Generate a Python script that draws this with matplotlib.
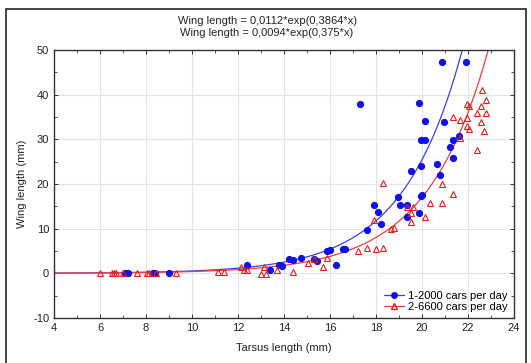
import numpy as np
import matplotlib.pyplot as plt
from matplotlib.patches import Rectangle

plt.rcParams['font.family'] = ['Liberation Sans', 'DejaVu Sans']
plt.rcParams['axes.unicode_minus'] = False

# Tarsus / wing lengths (mm), low-traffic roads (1-2000 cars per day)
tarse_faible = [7.1, 7.2, 8.3, 8.4, 9.0, 12.4, 13.4, 13.8, 13.9, 14.2, 14.4, 14.75,
                15.3, 15.45, 15.85, 16.0, 16.25, 16.55, 16.67, 17.6, 17.9, 18.1,
                18.2, 18.95, 19.05, 19.35, 19.35, 19.85, 19.5, 19.95, 19.95, 20.0,
                20.65, 20.8, 21.2, 21.35, 21.35, 21.6, 19.95, 20.15, 20.15, 20.95,
                17.3, 19.85, 20.85, 21.9]
aile_faible = [0.0, 0.0, 0.0, 0.0, 0.0, 1.9, 0.8, 1.9, 1.6, 3.1, 2.9, 3.4,
               3.1, 2.8, 5.0, 5.3, 1.9, 5.4, 5.4, 9.8, 15.4, 13.8,
               11.0, 17.1, 15.3, 15.4, 12.5, 13.4, 22.9, 24.0, 17.2, 17.5,
               24.4, 22.1, 28.2, 25.9, 29.9, 30.8, 29.9, 29.9, 34.2, 33.8,
               37.8, 38.1, 47.4, 47.4]

# High-traffic roads (2-6600 cars per day)
tarse_fort = [6.0, 6.5, 6.6, 6.7, 7.0, 7.6, 8.05, 8.15, 8.45, 9.3, 11.15, 11.4,
              12.15, 12.25, 12.4, 13.0, 13.2, 13.15, 13.7, 14.4, 15.05, 15.3,
              15.7, 15.85, 17.2, 17.6, 18.0, 18.3, 17.9, 18.3, 18.65, 18.8,
              19.35, 19.6, 19.5, 19.5, 20.15, 20.35, 20.85, 20.85, 21.35, 21.65,
              22.4, 21.35, 21.65, 21.95, 21.95, 22.05, 22.7, 22.4, 22.8, 22.55,
              21.95, 22.05, 22.55, 22.8, 22.6]
aile_fort = [0.0, 0.0, 0.0, 0.0, 0.0, 0.0, 0.0, 0.0, 0.0, 0.0, 0.3, 0.3,
             1.4, 0.8, 0.8, -0.2, -0.2, 1.4, 0.8, 0.2, 2.3, 3.2,
             1.4, 3.5, 4.9, 5.7, 5.4, 5.7, 11.9, 20.3, 9.9, 10.2,
             14.8, 14.8, 13.5, 11.6, 12.5, 15.7, 15.8, 19.9, 17.7, 30.2,
             27.7, 35.1, 34.4, 34.8, 32.9, 32.3, 31.9, 36.0, 35.9, 33.9,
             38.0, 37.4, 37.4, 38.9, 41.1]

# Exponential fits y = a*exp(b*x)
a_faible, b_faible = 0.0112, 0.3864
a_fort, b_fort = 0.0094, 0.375

bleu = '#1010e8'
rouge = '#e02020'

fig = plt.figure(figsize=(5.31, 3.63), dpi=100)
ax = fig.add_axes([0.1017, 0.124, 0.8663, 0.7383])

xs = np.linspace(4, 24, 400)
ax.plot(xs, a_faible * np.exp(b_faible * xs), color='#4040e0', lw=0.9, zorder=2)
ax.plot(xs, a_fort * np.exp(b_fort * xs), color='#e84040', lw=0.9, zorder=2)

ax.plot(tarse_faible, aile_faible, 'o', color=bleu, ms=4.2, mec=bleu, zorder=3)
ax.plot(tarse_fort, aile_fort, '^', mfc='none', mec=rouge, mew=0.8, ms=4.2, zorder=3)

# legend handles: line + marker
h1, = ax.plot([], [], '-o', color='#4040e0', mfc=bleu, mec=bleu, ms=4, lw=0.9)
h2, = ax.plot([], [], '-^', color='#e84040', mfc='none', mec=rouge, ms=4, lw=0.9)
ax.legend([h1, h2], ['1-2000 cars per day', '2-6600 cars per day'],
          loc='lower right', frameon=False, fontsize=8, handlelength=1.8,
          handletextpad=0.3, labelspacing=0.15, borderaxespad=0.0,
          bbox_to_anchor=(0.995, 0.005))

ax.set_xlim(4, 24)
ax.set_ylim(-10, 50)
ax.set_xticks(np.arange(4, 25, 2))
ax.set_yticks(np.arange(-10, 51, 10))
ax.set_xticks(np.arange(4, 25, 1), minor=True)
ax.set_yticks(np.arange(-10, 51, 5), minor=True)
ax.grid(True, which='major', color='#e4e4e4', lw=0.8, zorder=0)
ax.set_axisbelow(True)
ax.tick_params(which='both', direction='in', top=True, right=True,
               labelsize=8, colors='#333333', labelcolor='#222222')
ax.tick_params(which='major', length=3, width=0.7)
ax.tick_params(which='minor', length=2, width=0.6)
for s in ax.spines.values():
    s.set_color('#333333')
    s.set_linewidth(1.0)

ax.set_xlabel('Tarsus length (mm)', fontsize=8, color='#222222', labelpad=7)
ax.set_ylabel('Wing length (mm)', fontsize=8, color='#222222', labelpad=4)

fig.text(0.503, 0.941, 'Wing length = 0,0112*exp(0,3864*x)', ha='center',
         va='center', fontsize=8, color='#222222')
fig.text(0.503, 0.910, 'Wing length = 0,0094*exp(0,375*x)', ha='center',
         va='center', fontsize=8, color='#222222')

# outer frame
fig.patches.append(Rectangle((6 / 531, -0.05), 520 / 531, 1 - 9 / 363 + 0.05,
                             transform=fig.transFigure, fill=False,
                             edgecolor='#222222', lw=1.2))

fig.savefig('out.png', dpi=100)
